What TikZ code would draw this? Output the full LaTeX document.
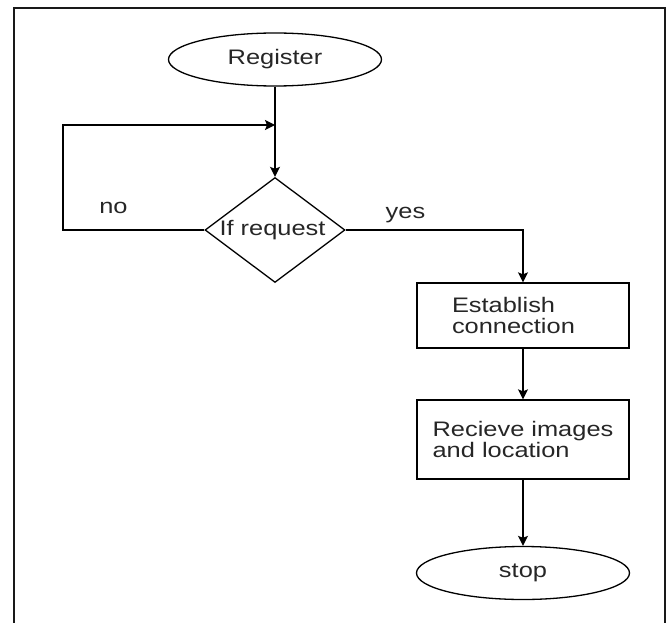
\documentclass[tikz,border=0pt]{standalone}
\usepackage{fontspec}
\setmainfont[FakeStretch=1.21]{Liberation Sans}
\usetikzlibrary{shapes.geometric,arrows.meta}
\begin{document}
\begin{tikzpicture}[x=1pt,y=-1pt,line width=1.3pt,
  every node/.style={font=\fontsize{21}{21.5}\selectfont, text=black!85},
  term/.style={draw, ellipse, minimum width=213pt, minimum height=53pt, inner sep=0pt},
  decide/.style={draw, diamond, minimum width=140pt, minimum height=105pt, inner sep=0pt},
  stepbox/.style={draw, rectangle, minimum width=212pt, inner sep=0pt, align=left},
  lbl/.style={anchor=base, inner sep=0pt},
  arr/.style={-{Stealth[length=10pt,width=10pt,inset=2pt]}},
  frame/.style={line width=2pt, black!90}]
\useasboundingbox (0,0) rectangle (669,623);
\draw[frame] (14,623) -- (14,8) -- (665,8) -- (665,623);
\node[term] (reg) at (275,59.5) {Register};
\node[decide] (dia) at (275,230) {};
\node[lbl] (dtext) at (272.5,235) {If request};
\node[stepbox, minimum height=65pt, text width=142pt] (est) at (523,315.5) {Establish\\connection};
\node[stepbox, minimum height=79pt] (rec) at (523,439.5) {Recieve images\\and location};
\node[term] (stop) at (523,573) {stop};
\node[lbl] (no) at (113.5,213) {no};
\node[lbl] (yes) at (405.5,218) {yes};
\coordinate (join) at (275,125);
\coordinate (lc) at (63,125);
\draw[arr] (reg.south) -- (dia.north);
\draw[arr] (dia.west) -| (lc) -- (join);
\draw[arr] (dia.east) -| (est.north);
\draw[arr] (est.south) -- (rec.north);
\draw[arr] (rec.south) -- (stop.north);
\end{tikzpicture}
\end{document}
